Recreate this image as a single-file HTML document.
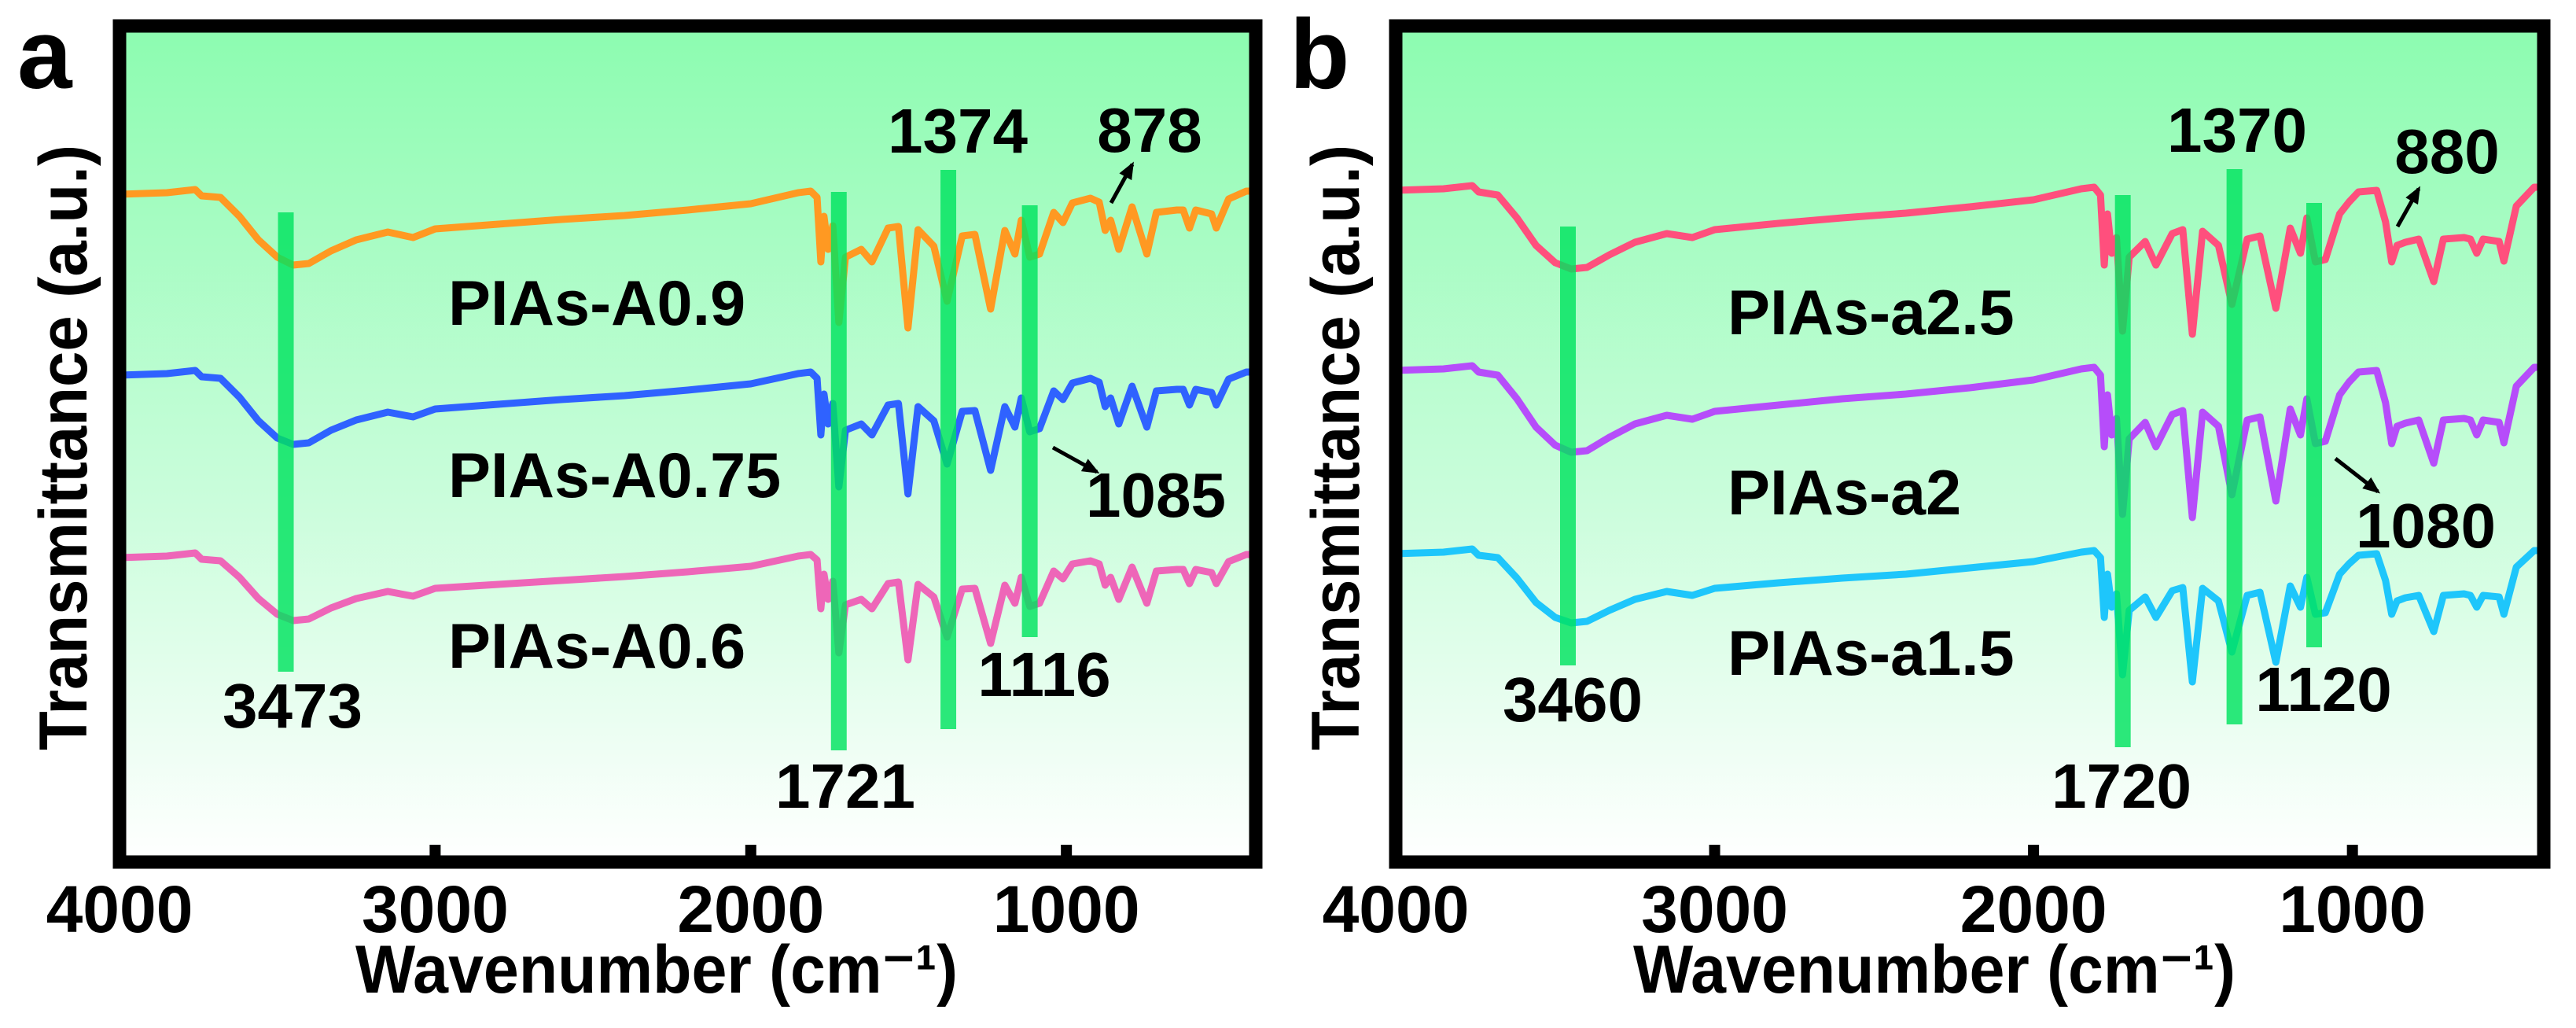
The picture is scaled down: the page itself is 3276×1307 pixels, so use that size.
<!DOCTYPE html>
<html><head><meta charset="utf-8">
<style>
html,body{margin:0;padding:0;background:#fff;}
svg{display:block;}
text{font-family:"Liberation Sans",Arial,sans-serif;font-weight:bold;fill:#000;}
</style></head>
<body>
<svg id="fig" xmlns="http://www.w3.org/2000/svg" width="3276" height="1307" viewBox="0 0 3276 1307">
<defs>
<linearGradient id="bg" x1="0" y1="0" x2="0" y2="1">
<stop offset="0" stop-color="#8cfcb0"/>
<stop offset="0.55" stop-color="#c8fdda"/>
<stop offset="1" stop-color="#ffffff"/>
</linearGradient>
</defs>
</svg>
<script>
// shared wavenumber grid (cm-1)
const wn = [4000,3850,3760,3740,3680,3620,3560,3500,3450,3400,3330,3250,3150,3070,3000,2800,2600,2400,2200,2000,1850,1810,1790,1778,1768,1755,1740,1721,1700,1650,1616,1565,1532,1502,1470,1420,1378,1330,1290,1240,1195,1163,1143,1116,1085,1040,1011,981,924,896,877,860,834,792,745,715,650,630,610,590,540,525,486,430,400];
// panel a series (transmittance, a.u. offset)
const sA09 = [840,842,846,838,836,812,782,760,750,752,768,782,792,785,796,802,808,813,820,828,842,844,836,754,812,770,800,677,760,770,754,797,799,670,795,774,704,787,789,694,794,764,807,760,764,817,804,829,835,830,794,807,770,824,764,817,820,820,797,820,815,797,834,844,844];
const sA075 = [610,612,616,608,606,582,552,530,522,524,540,553,563,557,567,573,579,584,591,599,612,614,606,534,586,548,574,468,540,548,534,572,574,459,570,552,497,564,565,489,570,544,581,538,542,590,579,600,606,601,570,581,548,596,544,590,592,592,572,592,588,572,605,614,614];
const sA06 = [378,380,384,376,374,353,326,306,298,300,314,326,335,329,339,344,349,354,360,367,380,382,375,313,357,325,348,257,318,325,313,345,347,248,344,328,277,338,339,269,343,320,353,316,320,361,351,370,374,370,343,353,325,366,320,361,363,363,345,363,359,345,373,382,382];
// panel b series
const sa25 = [845,847,851,843,839,810,775,753,745,747,763,779,790,785,795,803,810,816,824,833,847,849,839,750,815,765,785,666,760,780,750,790,795,662,793,775,700,783,787,695,797,765,810,754,757,815,830,843,845,805,754,775,779,783,729,783,785,783,765,783,780,755,825,849,849];
const sa2 = [616,618,622,614,610,580,544,521,512,514,531,548,559,554,564,572,580,586,594,604,618,620,610,519,585,534,555,433,529,550,519,560,565,429,563,545,458,553,557,450,567,534,580,523,526,585,601,614,616,575,523,545,549,553,498,553,555,553,534,553,550,524,596,620,620];
const sa15 = [383,385,389,381,378,352,321,302,295,297,311,325,335,330,339,346,352,357,365,373,385,387,378,302,357,315,332,229,311,328,302,336,340,220,339,323,258,330,334,245,342,315,353,306,308,357,370,381,383,349,306,323,327,330,284,330,332,330,315,330,328,306,366,387,387];
const xTicks = [3000,2000,1000];
const xTickLabels = ["4000","3000","2000","1000"];
const xTickLabelVals = [4000,3000,2000,1000];
// annotated peak positions
const peaksA = [3473,1721,1374,1116];
const peaksB = [3460,1720,1370,1120];
const peakTopA = [817,843,871,826];
const peakBotA = [233,133,160,277];
const peakTopB = [799,839,872,829];
const peakBotB = [241,137,166,264];

const NS = "http://www.w3.org/2000/svg";
const svg = document.getElementById('fig');
function mk(tag, attrs, parent){
  const e = document.createElementNS(NS, tag);
  for (const k in attrs) e.setAttribute(k, attrs[k]);
  (parent||svg).appendChild(e);
  return e;
}
function yScale(v){ return 1087 - v; }

const panels = [
  {key:'a', x0:152, x1:1597, top:33, bottom:1096, series:[[sA09,'#ff9922','pias-a0-9'],[sA075,'#2f62ff','pias-a0-75'],[sA06,'#ee66b8','pias-a0-6']],
   peaks:peaksA, pTop:peakTopA, pBot:peakBotA, letterX:22, yTitleX:96, xTitleX:835,
   names:[['PIAs-A0.9',570,413],['PIAs-A0.75',570,632],['PIAs-A0.6',570,849]],
   nums:[['3473',372,925],['1721',1075,1027],['1374',1218,194],['878',1462,193],['1085',1470,657],['1116',1328,885]],
   arrows:[[1413,258,1440,209],[1339,569,1395,600]]},
  {key:'b', x0:1775, x1:3235, top:33, bottom:1096, series:[[sa25,'#ff4f7d','pias-a2-5'],[sa2,'#b64dfa','pias-a2'],[sa15,'#1ec6fb','pias-a1-5']],
   peaks:peaksB, pTop:peakTopB, pBot:peakBotB, letterX:1640, yTitleX:1714, xTitleX:2460,
   names:[['PIAs-a2.5',2197,425],['PIAs-a2',2197,654],['PIAs-a1.5',2197,858]],
   nums:[['3460',2000,917],['1720',2698,1027],['1370',2845,193],['880',3112,220],['1080',3085,696],['1120',2955,904]],
   arrows:[[3049,288,3076,240],[2970,583,3024,625]]}
];

panels.forEach(p=>{
  const g = mk('g',{});
  
  
  const xs = w => p.x0 + (4000 - w) * (p.x1 - p.x0) / 3600;
  const bg = mk('rect',{x:p.x0,y:p.top,width:p.x1-p.x0,height:p.bottom-p.top,fill:'url(#bg)'},g);
  
  
  p.series.forEach(s=>{
    let d = '';
    s[0].forEach((v,i)=>{ d += (i?'L':'M') + xs(wn[i]).toFixed(1) + ',' + yScale(v).toFixed(1); });
    const path = mk('path',{d:d,fill:'none',stroke:s[1],'stroke-width':9,'stroke-linejoin':'round','stroke-linecap':'round'},g);
    
    
  });
  p.peaks.forEach((w,i)=>{
    const r = mk('rect',{x:xs(w)-10,y:yScale(p.pTop[i]),width:20,height:p.pTop[i]-p.pBot[i],fill:'#00e35f','fill-opacity':0.82},g);
    
    
  });
  const fr = mk('rect',{x:p.x0,y:p.top,width:p.x1-p.x0,height:p.bottom-p.top,fill:'none',stroke:'#000','stroke-width':17},g);
  
  
  xTicks.forEach(t=>{
    const tk = mk('rect',{x:xs(t)-7,y:p.bottom-22,width:14,height:16,fill:'#000'},g);
    
    
  });
  xTickLabels.forEach((lab,i)=>{
    const tl = mk('text',{x:xs(xTickLabelVals[i]),y:1185,'font-size':84,'text-anchor':'middle'},g);
    tl.textContent = lab;
    
    
  });
  const xt = mk('text',{x:p.xTitleX,y:1262,'font-size':86,'text-anchor':'middle',textLength:766,lengthAdjust:'spacingAndGlyphs'},g);
  xt.textContent = 'Wavenumber (cm\u207B\u00B9)';
  
  
  const yt = mk('text',{x:0,y:0,'font-size':86,'text-anchor':'middle',textLength:770,lengthAdjust:'spacingAndGlyphs',transform:'translate('+(p.yTitleX+14)+',569) rotate(-90)'},g);
  yt.textContent = 'Transmittance (a.u.)';
  
  
  const lt = mk('text',{x:p.letterX,y:112,'font-size':125},g);
  lt.textContent = p.key;
  
  
  p.names.forEach(n=>{
    const t = mk('text',{x:n[1],y:n[2],'font-size':81},g);
    t.textContent = n[0];
    
    
  });
  p.nums.forEach(n=>{
    const t = mk('text',{x:n[1],y:n[2],'font-size':80,'text-anchor':'middle'},g);
    t.textContent = n[0];
    
    
  });
  p.arrows.forEach(a=>{
    const ln = mk('line',{x1:a[0],y1:a[1],x2:a[2],y2:a[3],stroke:'#000','stroke-width':5},g);
    
    
    const ang = Math.atan2(a[3]-a[1], a[2]-a[0]);
    const L = 18, W = 9;
    const bx = a[2] - L*Math.cos(ang), by = a[3] - L*Math.sin(ang);
    const px = -Math.sin(ang)*W, py = Math.cos(ang)*W;
    const hd = mk('polygon',{points:(a[2]+Math.cos(ang)*4)+','+(a[3]+Math.sin(ang)*4)+' '+(bx+px)+','+(by+py)+' '+(bx-px)+','+(by-py),fill:'#000'},g);
    
    
  });
});
</script>
</body></html>
